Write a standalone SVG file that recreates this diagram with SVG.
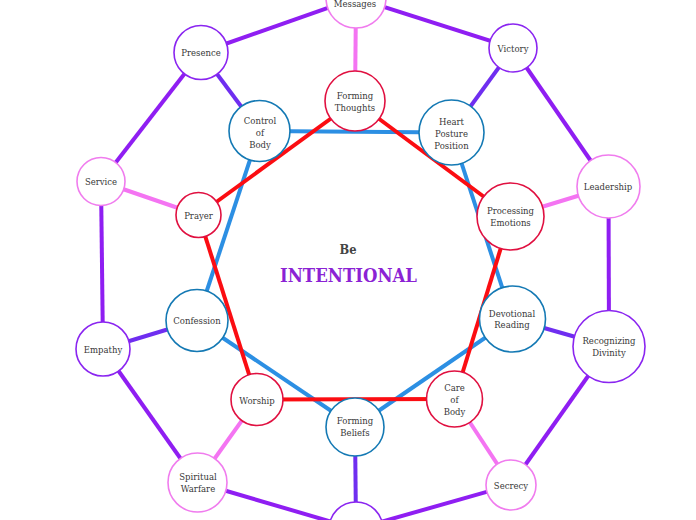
<svg xmlns="http://www.w3.org/2000/svg" width="696" height="520" viewBox="0 0 696 520">
<style>
.e{fill:none;stroke-linecap:butt}
.ep{stroke:#8f1ef2;stroke-width:4}
.ek{stroke:#f474f2;stroke-width:4}
.ev{stroke:#6f2ef0;stroke-width:4}
.eb{stroke:#2c8fe3;stroke-width:4}
.er{stroke:#fb0d12;stroke-width:4}
circle{fill:#fff;stroke-width:1.6}
.np circle{stroke:#8a25f0}
.nk circle{stroke:#f07cee}
.nb circle{stroke:#1479b4}
.nr circle{stroke:#e01040}
text{font-family:"DejaVu Serif","Liberation Serif",serif;font-size:8.5px;fill:#383838;text-anchor:middle}
</style>
<rect width="696" height="520" fill="#fff"/>
<g id="connectors">
<line class="e ep" x1="356" y1="-2" x2="201" y2="52.5"/>
<line class="e ep" x1="356" y1="-2" x2="513" y2="48"/>
<line class="e ep" x1="201" y1="52.5" x2="101" y2="181.5"/>
<line class="e ep" x1="513" y1="48" x2="608.5" y2="186.5"/>
<line class="e ep" x1="101" y1="181.5" x2="103" y2="349"/>
<line class="e ep" x1="608.5" y1="186.5" x2="609" y2="346.5"/>
<line class="e ep" x1="103" y1="349" x2="197.5" y2="482.5"/>
<line class="e ep" x1="609" y1="346.5" x2="511" y2="485"/>
<line class="e ep" x1="197.5" y1="482.5" x2="356" y2="529"/>
<line class="e ep" x1="511" y1="485" x2="356" y2="529"/>
<line class="e ek" x1="356" y1="-2" x2="355" y2="101"/>
<line class="e ek" x1="101" y1="181.5" x2="198.5" y2="215"/>
<line class="e ek" x1="608.5" y1="186.5" x2="510.5" y2="216.5"/>
<line class="e ek" x1="197.5" y1="482.5" x2="257" y2="399.5"/>
<line class="e ek" x1="511" y1="485" x2="454.5" y2="399"/>
<line class="e ev" x1="201" y1="52.5" x2="259.5" y2="131"/>
<line class="e ev" x1="513" y1="48" x2="451.5" y2="132.5"/>
<line class="e ev" x1="103" y1="349" x2="197" y2="320.5"/>
<line class="e ev" x1="609" y1="346.5" x2="512.5" y2="319"/>
<line class="e ev" x1="356" y1="529" x2="355" y2="427"/>
<line class="e eb" x1="259.5" y1="131" x2="451.5" y2="132.5"/>
<line class="e eb" x1="451.5" y1="132.5" x2="512.5" y2="319"/>
<line class="e eb" x1="512.5" y1="319" x2="355" y2="427"/>
<line class="e eb" x1="355" y1="427" x2="197" y2="320.5"/>
<line class="e eb" x1="197" y1="320.5" x2="259.5" y2="131"/>
<line class="e er" x1="355" y1="101" x2="510.5" y2="216.5"/>
<line class="e er" x1="510.5" y1="216.5" x2="454.5" y2="399"/>
<line class="e er" x1="454.5" y1="399" x2="257" y2="399.5"/>
<line class="e er" x1="257" y1="399.5" x2="198.5" y2="215"/>
<line class="e er" x1="198.5" y1="215" x2="355" y2="101"/>
</g>
<g id="messages" class="nk"><circle cx="356" cy="-2" r="30"/><text x="355" y="7">Messages</text></g>
<g id="victory" class="np"><circle cx="513" cy="48" r="24"/><text x="513" y="52">Victory</text></g>
<g id="presence" class="np"><circle cx="201" cy="52.5" r="27"/><text x="201" y="56">Presence</text></g>
<g id="service" class="nk"><circle cx="101" cy="181.5" r="24"/><text x="101" y="185">Service</text></g>
<g id="leadership" class="nk"><circle cx="608.5" cy="186.5" r="31.5"/><text x="608" y="189.5">Leadership</text></g>
<g id="empathy" class="np"><circle cx="103" cy="349" r="27"/><text x="103" y="352.5">Empathy</text></g>
<g id="recognizing-divinity" class="np"><circle cx="609" cy="346.5" r="36"/><text x="609" y="344">Recognizing<tspan x="609" dy="11.5">Divinity</tspan></text></g>
<g id="spiritual-warfare" class="nk"><circle cx="197.5" cy="482.5" r="29.5"/><text x="198" y="480">Spiritual<tspan x="198" dy="11.5">Warfare</tspan></text></g>
<g id="secrecy" class="nk"><circle cx="511" cy="485" r="25"/><text x="511" y="488.5">Secrecy</text></g>
<g id="bottom" class="np"><circle cx="356" cy="529" r="27"/></g>
<g id="control-of-body" class="nb"><circle cx="259.5" cy="131" r="30.5"/><text x="260" y="123.5">Control<tspan x="260" dy="12">of</tspan><tspan x="260" dy="12">Body</tspan></text></g>
<g id="heart-posture-position" class="nb"><circle cx="451.5" cy="132.5" r="32.5"/><text x="451.5" y="124.5">Heart<tspan x="451.5" dy="12">Posture</tspan><tspan x="451.5" dy="12">Position</tspan></text></g>
<g id="confession" class="nb"><circle cx="197" cy="320.5" r="31"/><text x="197" y="324">Confession</text></g>
<g id="devotional-reading" class="nb"><circle cx="512.5" cy="319" r="33"/><text x="512" y="316.5">Devotional<tspan x="512" dy="11.5">Reading</tspan></text></g>
<g id="forming-beliefs" class="nb"><circle cx="355" cy="427" r="29"/><text x="355" y="424">Forming<tspan x="355" dy="11.5">Beliefs</tspan></text></g>
<g id="forming-thoughts" class="nr"><circle cx="355" cy="101" r="30"/><text x="355" y="99">Forming<tspan x="355" dy="11.5">Thoughts</tspan></text></g>
<g id="processing-emotions" class="nr"><circle cx="510.5" cy="216.5" r="33.5"/><text x="510.5" y="214">Processing<tspan x="510.5" dy="11.5">Emotions</tspan></text></g>
<g id="prayer" class="nr"><circle cx="198.5" cy="215" r="22.5"/><text x="198.5" y="218.5">Prayer</text></g>
<g id="worship" class="nr"><circle cx="257" cy="399.5" r="26"/><text x="257" y="403.5">Worship</text></g>
<g id="care-of-body" class="nr"><circle cx="454.5" cy="399" r="28"/><text x="454.5" y="390.5">Care<tspan x="454.5" dy="12">of</tspan><tspan x="454.5" dy="12">Body</tspan></text></g>
<g id="title">
<text x="348" y="254" style="font-size:13px;fill:#444;font-weight:bold" textLength="17" lengthAdjust="spacingAndGlyphs">Be</text>
<text x="348.5" y="282" style="font-size:19px;fill:#8b22d4;font-weight:bold" textLength="137" lengthAdjust="spacingAndGlyphs">INTENTIONAL</text>
</g>
</svg>
